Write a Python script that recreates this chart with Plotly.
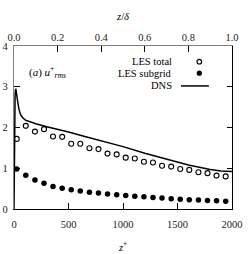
import plotly.graph_objects as go

# ---- data ----
z_les = [25, 108, 192, 275, 358, 442, 525, 608, 692, 775, 858, 942,
         1025, 1108, 1192, 1275, 1358, 1442, 1525, 1608, 1692, 1775, 1858, 1942]
u_les_total = [1.72, 2.04, 1.90, 1.96, 1.78, 1.77, 1.60, 1.60, 1.49, 1.47, 1.36, 1.34,
               1.26, 1.24, 1.16, 1.14, 1.06, 1.04, 0.98, 0.96, 0.90, 0.88, 0.82, 0.80]
u_les_sgs = [0.98, 0.83, 0.71, 0.63, 0.55, 0.51, 0.47, 0.44, 0.41, 0.39, 0.37, 0.35,
             0.33, 0.31, 0.30, 0.28, 0.27, 0.25, 0.24, 0.23, 0.22, 0.21, 0.20, 0.19]
z_dns = [0, 3, 6, 10, 15, 20, 30, 45, 60, 80, 105, 150, 200, 300, 400, 500,
         650, 800, 1000, 1200, 1400, 1600, 1800, 1900, 2000]
u_dns = [0, 1.2, 2.3, 2.8, 2.95, 2.9, 2.7, 2.45, 2.32, 2.24, 2.18, 2.13, 2.09, 2.02,
         1.96, 1.89, 1.78, 1.68, 1.53, 1.37, 1.22, 1.08, 0.97, 0.93, 0.92]

x_ticks = [0, 500, 1000, 1500, 2000]
x2_ticks = [0.0, 0.2, 0.4, 0.6, 0.8, 1.0]
x2_ticklabels = ["0.0", "0.2", "0.4", "0.6", "0.8", "1.0"]
y_ticks = [0, 1, 2, 3, 4]

FONT = "Liberation Serif"

fig = go.Figure()
fig.add_trace(go.Scatter(x=z_dns, y=u_dns, mode="lines",
                         line=dict(color="black", width=1.5), showlegend=False))
fig.add_trace(go.Scatter(x=z_les, y=u_les_total, mode="markers",
                         marker=dict(symbol="circle-open", size=5, color="black",
                                     line=dict(width=1.1, color="black")),
                         showlegend=False))
fig.add_trace(go.Scatter(x=z_les, y=u_les_sgs, mode="markers",
                         marker=dict(symbol="circle", size=5.5, color="black"),
                         showlegend=False))
# invisible trace to activate secondary axes
fig.add_trace(go.Scatter(x=[0, 1], y=[0, 4], xaxis="x2", yaxis="y2", mode="markers",
                         marker=dict(opacity=0), showlegend=False, hoverinfo="skip"))

tickfont = dict(family=FONT, size=10.5, color="#222")

fig.update_layout(
    width=248, height=254,
    margin=dict(l=14, r=16, t=46, b=45),
    paper_bgcolor="white", plot_bgcolor="white",
    font=dict(family=FONT, size=10, color="black"),
    xaxis=dict(range=[0, 2000], tickvals=x_ticks, ticks="inside", ticklen=6,
               tickcolor="black", tickwidth=1, automargin=False,
               showline=True, linecolor="black", linewidth=1.3,
               showgrid=False, zeroline=False, tickfont=tickfont,
               ticklabelstandoff=5,
               title=dict(text="<i>z</i><sup>+</sup>", font=dict(family=FONT, size=10.5),
                          standoff=14)),
    xaxis2=dict(range=[0, 1], overlaying="x", side="top", tickvals=x2_ticks,
                ticktext=x2_ticklabels, ticks="inside", ticklen=6, tickcolor="black",
                showline=True, linecolor="#808080", linewidth=1.3, automargin=False,
                showgrid=False, zeroline=False, tickfont=tickfont,
                title=dict(text="<i>z</i>/<i>δ</i>", font=dict(family=FONT, size=10.5),
                           standoff=8)),
    yaxis=dict(range=[0, 4], tickvals=y_ticks, ticks="inside", ticklen=6,
               tickcolor="black", showline=True, linecolor="#808080", linewidth=1.3,
               showgrid=False, zeroline=False, tickfont=tickfont, automargin=False,
               ticklabelstandoff=3),
    yaxis2=dict(range=[0, 4], overlaying="y", side="right", tickvals=y_ticks,
                showticklabels=False, ticks="inside", ticklen=5, tickcolor="black",
                showline=True, linecolor="black", linewidth=1.3, automargin=False,
                showgrid=False, zeroline=False),
)

# panel label
fig.add_annotation(xref="paper", yref="paper", x=0.06, y=0.84, xanchor="left",
                   yanchor="middle", showarrow=False,
                   text="(<i>a</i>) <i>u</i><sup>+</sup><sub><i>rms</i></sub>",
                   font=dict(family=FONT, size=11))

# legend (text left, symbol right)
leg_items = ["LES total", "LES subgrid", "DNS"]
leg_y = [0.904, 0.833, 0.755]
for name, yy in zip(leg_items, leg_y):
    fig.add_annotation(xref="paper", yref="paper", x=0.732, y=yy, xanchor="right",
                       yanchor="middle", showarrow=False, text=name,
                       font=dict(family=FONT, size=10.5))
fig.add_shape(type="circle", xref="paper", yref="paper", xsizemode="pixel",
              ysizemode="pixel", xanchor=0.85, yanchor=0.904, x0=-2.3, x1=2.3,
              y0=-2.3, y1=2.3, line=dict(color="black", width=1.1))
fig.add_shape(type="circle", xref="paper", yref="paper", xsizemode="pixel",
              ysizemode="pixel", xanchor=0.85, yanchor=0.833, x0=-2.6, x1=2.6,
              y0=-2.6, y1=2.6, line=dict(color="black", width=0), fillcolor="black")
fig.add_shape(type="line", xref="paper", yref="paper", x0=0.766, x1=0.894,
              y0=0.755, y1=0.755, line=dict(color="black", width=1.5))

fig.write_html("out.html", config={"displayModeBar": False},
               post_script="document.body.style.margin='0';document.body.style.padding='0';")
